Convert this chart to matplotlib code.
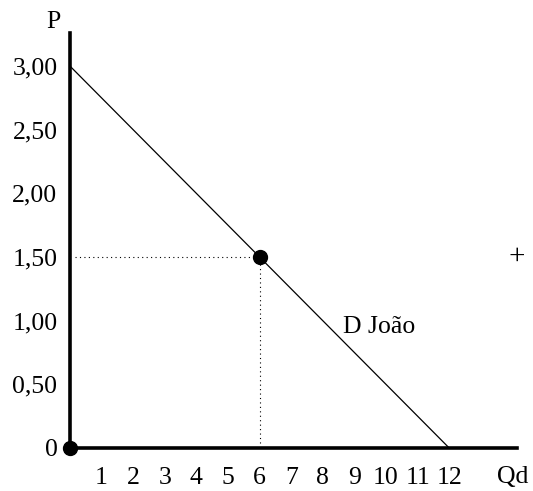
import matplotlib
matplotlib.use("Agg")
import matplotlib.pyplot as plt

plt.rcParams['font.family'] = ['Liberation Serif', 'DejaVu Serif']

# Data
demand_q = [0, 12]
demand_p = [3.0, 0.0]
point_q = [6]
point_p = [1.5]
origin_q = [0]
origin_p = [0]
x_ticks = [1, 2, 3, 4, 5, 6, 7, 8, 9, 10, 11, 12]
x_tick_labels = ["1", "2", "3", "4", "5", "6", "7", "8", "9", "10", "11", "12"]
y_ticks = [0, 0.5, 1.0, 1.5, 2.0, 2.5, 3.0]
y_tick_labels = ["0", "0,50", "1,00", "1,50", "2,00", "2,50", "3,00"]

W, H = 533, 491
fig = plt.figure(figsize=(W / 100, H / 100), dpi=100)
ax = fig.add_axes([0, 0, 1, 1])
ax.set_facecolor('white')

# pixel mapping
x0px, xs = 70, 31.6
y0px, ys = 448, 127.3
ax.set_xlim(-x0px / xs, (W - x0px) / xs)
ax.set_ylim(-(H - y0px) / ys, y0px / ys)

FS = 18.5

# spines as axes
for s in ['top', 'right']:
    ax.spines[s].set_visible(False)
ax.spines['left'].set_position(('data', 0))
ax.spines['bottom'].set_position(('data', 0))
ax.spines['left'].set_bounds(0, 3.26)
ax.spines['bottom'].set_bounds(0, 14.15)
ax.spines['left'].set_linewidth(2.6)
ax.spines['bottom'].set_linewidth(2.6)

ax.set_xticks(x_ticks)
ax.set_xticklabels(x_tick_labels)
ax.set_yticks(y_ticks)
ax.set_yticklabels(y_tick_labels)
ax.tick_params(axis='x', length=0, pad=13.5, labelsize=FS)
ax.tick_params(axis='y', length=0, pad=9, labelsize=FS)

# demand line
ax.plot(demand_q, demand_p, color='black', lw=0.9, solid_capstyle='butt')

# dotted guides
ax.plot([0.15, point_q[0]], [point_p[0], point_p[0]], color='black', lw=0.8,
        linestyle=(0, (1, 3)))
ax.plot([point_q[0], point_q[0]], [0.04, point_p[0]], color='black', lw=0.8,
        linestyle=(0, (1, 3)))

# points
ax.plot(point_q, point_p, 'o', color='black', markersize=10)
ax.plot(origin_q, origin_p, 'o', color='black', markersize=10, clip_on=False)

# labels
ax.text(-0.54, 3.35, "P", fontsize=FS, ha='center', va='center')
ax.text(14.0, -0.225, "Qd", fontsize=FS, ha='center', va='center')
ax.text(8.64, 0.95, "D João", fontsize=FS, ha='left', va='center')
ax.text(14.15, 1.5, "+", fontsize=21, ha='center', va='center',
        fontweight='light')

fig.savefig("out.png", dpi=100, facecolor='white')
